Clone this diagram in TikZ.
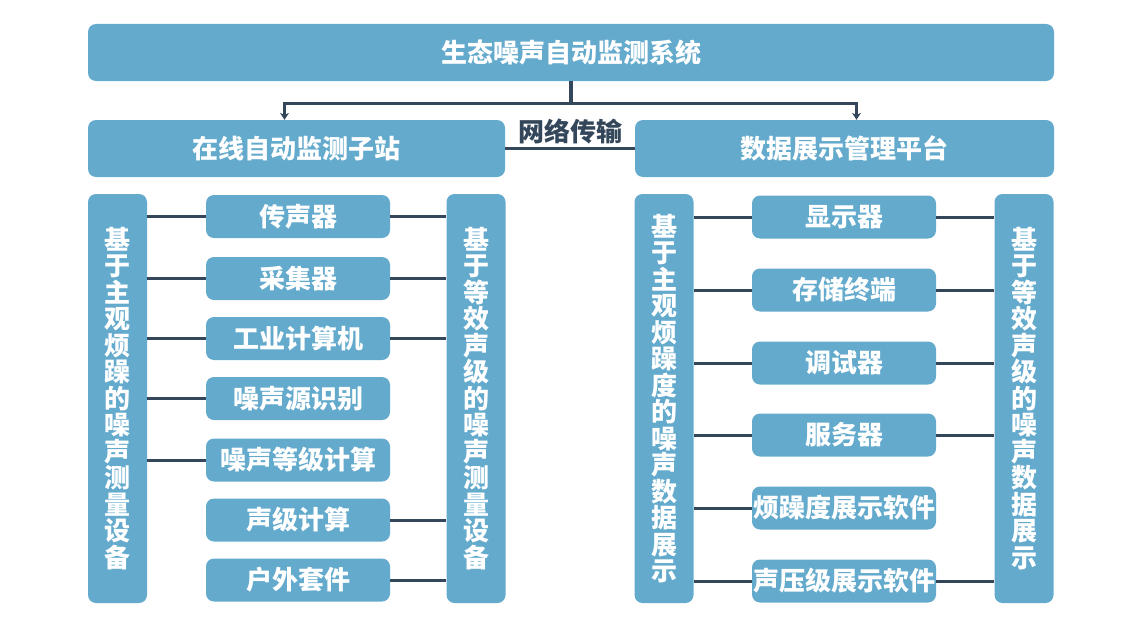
\documentclass[tikz,border=0pt]{standalone}
\usepackage{fontspec}
\setmainfont{Noto Sans CJK SC}
\usepackage{tikz}
\usetikzlibrary{arrows.meta}
\definecolor{boxblue}{RGB}{99,170,205}
\definecolor{linkdark}{RGB}{52,71,90}

\begin{document}
\begin{tikzpicture}[x=1pt,y=-1pt,
    box/.style={fill=boxblue,rounded corners=8pt,text=white,inner sep=0pt,
      font=\fontsize{26}{26.5}\selectfont\bfseries},
    headbox/.style={box,minimum height=57pt},
    itembox/.style={box,minimum width=184pt,minimum height=43pt},
    vbar/.style={box,minimum width=59pt,minimum height=409pt,align=center},
    link/.style={draw=linkdark,line width=3pt}]
  \useasboundingbox (0,0) rectangle (1139,626);
  % top level
  \node[headbox,minimum width=966pt] (sys) at (571,52.5) {生态噪声自动监测系统};
  \node[headbox,minimum width=417pt] (sta) at (296.5,148.5) {在线自动监测子站};
  \node[headbox,minimum width=419pt] (plat) at (844.5,148.5) {数据展示管理平台};
  \coordinate (bus) at (571,103);
  \draw[link,line width=3.5pt] (sys.south) -- (bus);
  \draw[link,-{Stealth[length=7pt,width=9pt]}] (bus) -| ([xshift=-12pt]sta.north);
  \draw[link,-{Stealth[length=7pt,width=9pt]}] (bus) -| ([xshift=12pt]plat.north);
  \draw[link] (sta) -- (plat)
    node[midway,above=0pt,text=linkdark,font=\fontsize{26}{26}\selectfont\bfseries] {网络传输};

  % left: substation
  \node[vbar] (subj) at (117.5,398.5) {基\\于\\主\\观\\烦\\躁\\的\\噪\\声\\测\\量\\设\\备};
  \node[vbar] (equ) at (476,398.5) {基\\于\\等\\效\\声\\级\\的\\噪\\声\\测\\量\\设\\备};
  \node[itembox] (mic) at (298,216.5) {传声器};
  \node[itembox] (acq) at (298,278.5) {采集器};
  \node[itembox] (ipc) at (298,338.5) {工业计算机};
  \node[itembox] (src) at (298,398.5) {噪声源识别};
  \node[itembox] (lvl) at (298,460) {噪声等级计算};
  \node[itembox] (spl) at (298,520) {声级计算};
  \node[itembox] (kit) at (298,580) {户外套件};
  \foreach \n in {mic,acq,ipc,src,lvl}
    \draw[link] (\n.west) -- (\n.west -| subj.east);
  \foreach \n in {mic,acq,ipc,spl,kit}
    \draw[link] (\n.east) -- (\n.east -| equ.west);

  % right: display platform
  \node[vbar] (ann) at (664,398.5) {基\\于\\主\\观\\烦\\躁\\度\\的\\噪\\声\\数\\据\\展\\示};
  \node[vbar] (leq) at (1024,398.5) {基\\于\\等\\效\\声\\级\\的\\噪\\声\\数\\据\\展\\示};
  \node[itembox] (disp) at (844,217) {显示器};
  \node[itembox] (stor) at (844,290) {存储终端};
  \node[itembox] (dbg) at (844,363) {调试器};
  \node[itembox] (srv) at (844,435) {服务器};
  \node[itembox] (annsw) at (844,508) {烦躁度展示软件};
  \node[itembox] (splsw) at (844,581) {声压级展示软件};
  \foreach \n in {disp,stor,dbg,srv,annsw,splsw}
    \draw[link] (\n.west) -- (\n.west -| ann.east);
  \foreach \n in {disp,stor,dbg,srv,splsw}
    \draw[link] (\n.east) -- (\n.east -| leq.west);
\end{tikzpicture}
\end{document}
